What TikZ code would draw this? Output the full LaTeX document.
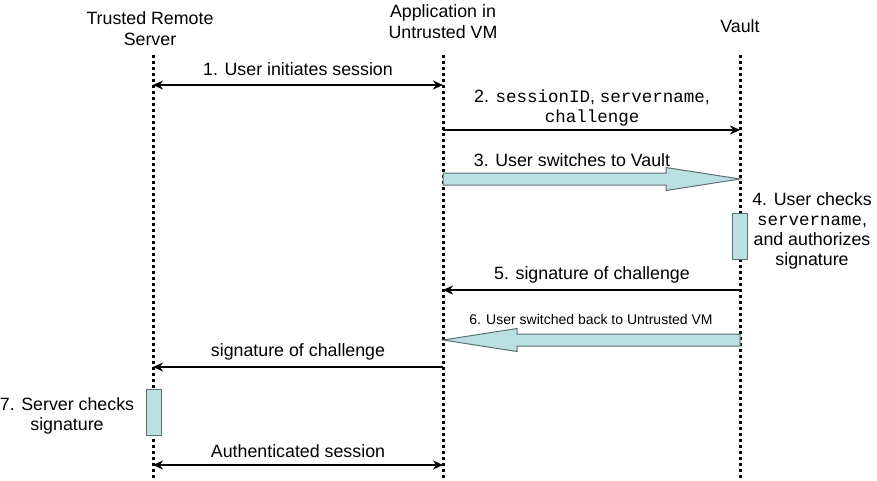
\documentclass[tikz,border=0pt]{standalone}
\usepackage{fontspec}
\setmainfont{Liberation Sans}
\newfontfamily\codefont{Liberation Mono}
\usetikzlibrary{arrows.meta,calc}
\definecolor{switchfill}{RGB}{186,224,227}
\definecolor{switchedge}{RGB}{95,110,112}
\tikzset{
  lifeline/.style={line width=3pt, dash pattern=on 3pt off 3pt},
  msg/.style={line width=2.8pt, -{Stealth[length=10pt,width=9pt]}},
  msgboth/.style={line width=2.8pt, {Stealth[length=10pt,width=9pt]}-{Stealth[length=10pt,width=9pt]}},
  lbl/.style={font=\fontsize{17.8}{20}\selectfont, inner sep=0pt, align=center},
  smalllbl/.style={font=\fontsize{14}{17}\selectfont, inner sep=0pt, align=center},
  head/.style={font=\fontsize{17.8}{21}\selectfont, inner sep=0pt, align=center},
  activation/.style={draw=switchedge, fill=switchfill, line width=1pt},
  switcharrow/.style={draw=switchedge, fill=switchfill, line width=1pt, line join=miter},
}
\newcommand{\code}[1]{{\codefont\fontsize{17.5}{20}\selectfont #1}}
\begin{document}
\begin{tikzpicture}[x=1pt, y=-1pt]
\useasboundingbox (0,0) rectangle (877,480);

% participants
\node[head] (srv) at (150,29) {Trusted Remote\\Server};
\node[head] (app) at (443,22) {Application in\\Untrusted VM};
\node[head] (vlt) at (740,26) {Vault};

% lifelines
\coordinate (srvTop) at (153,55);  \coordinate (srvBot) at (153,480);
\coordinate (appTop) at (443,55);  \coordinate (appBot) at (443,480);
\coordinate (vltTop) at (740,55);  \coordinate (vltBot) at (740,480);
\draw[lifeline] (srvTop) -- (srvBot);
\draw[lifeline] (appTop) -- (appBot);
\draw[lifeline] (vltTop) -- (vltBot);

% message end points on the lifelines
\coordinate (s1) at (153,85);  \coordinate (a1) at (443,85);
\coordinate (a2) at (443,130); \coordinate (v2) at (740,130);
\coordinate (a3) at (443,179); \coordinate (v3) at (740,179);
\coordinate (v5) at (740,290); \coordinate (a5) at (443,290);
\coordinate (v6) at (740,340); \coordinate (a6) at (443,340);
\coordinate (a7) at (443,367); \coordinate (s7) at (153,367);
\coordinate (s8) at (153,465); \coordinate (a8) at (443,465);

% 1
\draw[msgboth] (s1) -- (a1);
\node[lbl] (l1) at (298,69) {1. User initiates session};

% 2
\draw[msg] (a2) -- (v2);
\node[lbl] (l2) at (592,108) {2. \code{sessionID}, \code{servername},\\\code{challenge}};

% 3: switch to the vault
\path[switcharrow] ($(a3)+(0,-6)$) -- ($(v3)+(-74,-6)$) -- ($(v3)+(-74,-11.5)$) -- (v3)
  -- ($(v3)+(-74,11.5)$) -- ($(v3)+(-74,6)$) -- ($(a3)+(0,6)$) -- cycle;
\node[lbl] (l3) at (572,160) {3. User switches to Vault};

% 4: check in the vault
\node[activation, minimum width=15pt, minimum height=46pt, inner sep=0pt] (act4) at (740,236.5) {};
\node[lbl] (l4) at (812,231) {4. User checks\\\code{servername},\\and authorizes\\signature};

% 5
\draw[msg] (v5) -- (a5);
\node[lbl] (l5) at (592,275) {5. signature of challenge};

% 6: switch back
\path[switcharrow] ($(v6)+(0,-6)$) -- ($(a6)+(74,-6)$) -- ($(a6)+(74,-11.5)$) -- (a6)
  -- ($(a6)+(74,11.5)$) -- ($(a6)+(74,6)$) -- ($(v6)+(0,6)$) -- cycle;
\node[smalllbl] (l6) at (591,319) {6. User switched back to Untrusted VM};

% forwarded signature
\draw[msg] (a7) -- (s7);
\node[lbl] (l7) at (298,352) {signature of challenge};

% 7: check on the server
\node[activation, minimum width=15pt, minimum height=46pt, inner sep=0pt] (act7) at (153.5,412) {};
\node[lbl] (l8) at (67,416) {7. Server checks\\signature};

% authenticated session
\draw[msgboth] (s8) -- (a8);
\node[lbl] (l9) at (298,451) {Authenticated session};
\end{tikzpicture}
\end{document}
